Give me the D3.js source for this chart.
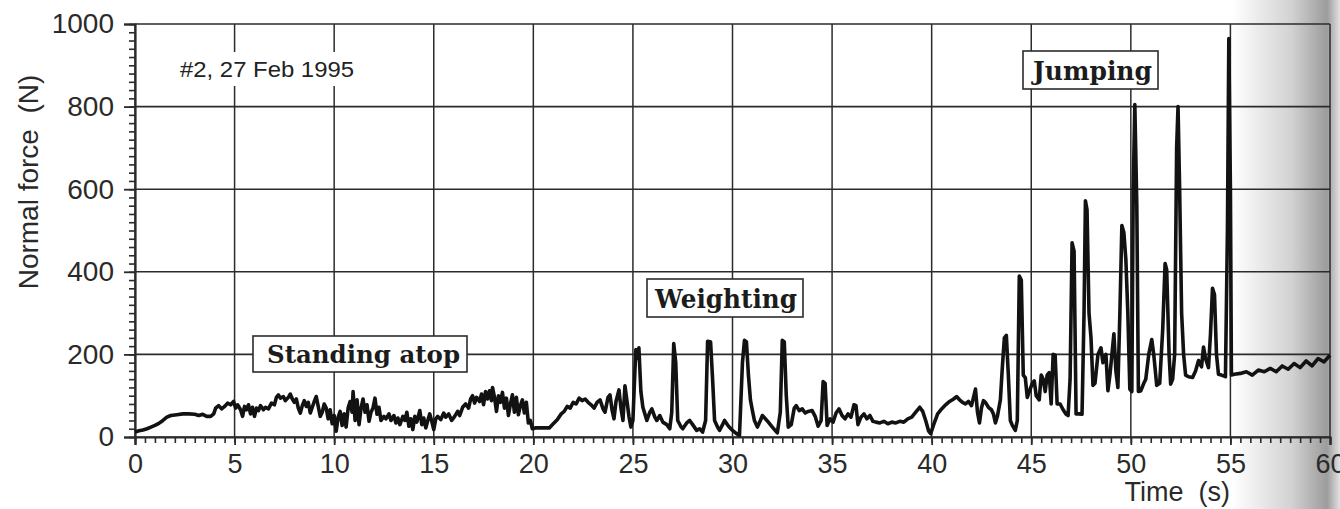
<!DOCTYPE html>
<html>
<head>
<meta charset="utf-8">
<script src="https://cdn.jsdelivr.net/npm/d3@7"></script>
<style>
  body { margin: 0; background: #fff; }
  svg { display: block; }
</style>
</head>
<body>
<div id="chart"></div>
<script>
// normal force (N) vs time (s), split by phase
const standingData = [
  [0, 12], [0.2, 15], [0.4, 17], [0.6, 20], [0.8, 24], [1.0, 28], [1.2, 33], [1.4, 40], [1.6, 48], [1.8, 52],
  [2.1, 54], [2.4, 56], [2.7, 56], [3.0, 55], [3.2, 52], [3.4, 55], [3.6, 50], [3.8, 50], [3.95, 56], [4.05, 70],
  [4.2, 76], [4.35, 68], [4.5, 74], [4.65, 82], [4.8, 78], [4.95, 86], [5.05, 70], [5.15, 78], [5.3, 66], [5.4, 50],
  [5.5, 74], [5.6, 66], [5.7, 78], [5.8, 56], [5.9, 72], [6.0, 50], [6.1, 70], [6.2, 64], [6.3, 76], [6.45, 66],
  [6.55, 72], [6.7, 68], [6.85, 82], [7.0, 78], [7.1, 96], [7.2, 102], [7.3, 94], [7.45, 98], [7.55, 88], [7.7, 96],
  [7.8, 104], [7.9, 92], [8.0, 84], [8.1, 92], [8.2, 70], [8.3, 58], [8.4, 76], [8.5, 88], [8.6, 74], [8.7, 84],
  [8.8, 58], [8.9, 72], [9.0, 86], [9.1, 98], [9.2, 74], [9.3, 50], [9.4, 60], [9.5, 80], [9.6, 70], [9.7, 44],
  [9.8, 66], [9.9, 32], [10.0, 52], [10.1, 14], [10.2, 48], [10.3, 62], [10.4, 28], [10.5, 56], [10.6, 24], [10.7, 70],
  [10.8, 86], [10.9, 60], [10.95, 110], [11.05, 40], [11.15, 90], [11.25, 30], [11.35, 70], [11.45, 92], [11.55, 60], [11.65, 78],
  [11.75, 38], [11.85, 60], [11.95, 70], [12.05, 94], [12.15, 55], [12.25, 72], [12.35, 40], [12.5, 50], [12.6, 44], [12.75, 56],
  [12.85, 40], [13.0, 52], [13.1, 34], [13.2, 46], [13.3, 30], [13.45, 50], [13.55, 40], [13.65, 60], [13.75, 26], [13.85, 44],
  [13.95, 18], [14.05, 50], [14.15, 36], [14.3, 64], [14.4, 30], [14.5, 46], [14.6, 22], [14.7, 40], [14.8, 56], [14.9, 38],
  [15.0, 18], [15.1, 44], [15.2, 50], [15.35, 42], [15.5, 58], [15.6, 48], [15.75, 56], [15.9, 40], [16.05, 50], [16.2, 62],
  [16.3, 52], [16.45, 72], [16.6, 80], [16.75, 70], [16.85, 92], [16.95, 100], [17.05, 82], [17.15, 96], [17.3, 86], [17.4, 104],
  [17.5, 78], [17.6, 110], [17.7, 92], [17.8, 112], [17.9, 88], [17.95, 120], [18.05, 96], [18.15, 62], [18.25, 100], [18.35, 84],
  [18.45, 108], [18.55, 70], [18.65, 94], [18.75, 52], [18.85, 80], [18.95, 102], [19.05, 60], [19.15, 96], [19.25, 54], [19.35, 76],
  [19.45, 90], [19.55, 58], [19.65, 84], [19.75, 34], [19.85, 40], [19.95, 20], [20.1, 22], [20.5, 22]
]

const weightingData = [
  [20.8, 22], [21.0, 32], [21.2, 42], [21.4, 56], [21.55, 62], [21.7, 74], [21.85, 70], [22.0, 84], [22.15, 80], [22.3, 94],
  [22.45, 88], [22.6, 92], [22.75, 84], [22.9, 78], [23.05, 70], [23.2, 84], [23.35, 90], [23.5, 68], [23.6, 60], [23.75, 96],
  [23.85, 102], [23.95, 66], [24.05, 44], [24.15, 86], [24.3, 114], [24.4, 70], [24.5, 40], [24.6, 124], [24.7, 88], [24.8, 50],
  [24.9, 24], [25.0, 40], [25.1, 160], [25.15, 212], [25.25, 190], [25.3, 216], [25.4, 110], [25.5, 72], [25.6, 56], [25.7, 40],
  [25.85, 60], [25.95, 68], [26.1, 48], [26.2, 40], [26.35, 52], [26.5, 36], [26.7, 30], [26.85, 20], [26.95, 60], [27.05, 226],
  [27.15, 180], [27.25, 40], [27.4, 26], [27.5, 20], [27.7, 34], [27.85, 40], [28.0, 30], [28.2, 16], [28.35, 20], [28.5, 12],
  [28.65, 40], [28.75, 232], [28.9, 230], [29.0, 140], [29.1, 40], [29.25, 24], [29.35, 16], [29.5, 30], [29.6, 40], [29.8, 26],
  [30.0, 16], [30.2, 8], [30.35, 4], [30.5, 180], [30.6, 234], [30.7, 230], [30.8, 150], [30.9, 90], [31.0, 64], [31.1, 40],
  [31.25, 24], [31.4, 40], [31.5, 52], [31.65, 44], [31.8, 36], [32.0, 24], [32.25, 10], [32.4, 60], [32.5, 234], [32.6, 230],
  [32.7, 100], [32.8, 24], [32.95, 30], [33.1, 70], [33.2, 76], [33.35, 64], [33.5, 68], [33.65, 58], [33.8, 62], [34.0, 64],
  [34.15, 50], [34.3, 26], [34.45, 40], [34.55, 134], [34.65, 130], [34.75, 28], [34.9, 44], [35.05, 36], [35.2, 58], [35.35, 68],
  [35.5, 52], [35.65, 44], [35.8, 56], [35.95, 48], [36.1, 78], [36.2, 76], [36.3, 30], [36.45, 48], [36.6, 56], [36.75, 44],
  [36.9, 52], [37.05, 38], [37.2, 36], [37.4, 34], [37.6, 38], [37.8, 32], [38.0, 36], [38.2, 34], [38.4, 38], [38.6, 36],
  [38.8, 44], [39.0, 48], [39.2, 60], [39.4, 72], [39.55, 62], [39.7, 40], [39.85, 14], [39.95, 8], [40.1, 30], [40.3, 56],
  [40.5, 68], [40.7, 78], [40.9, 86], [41.1, 92], [41.25, 98], [41.4, 90], [41.55, 84], [41.7, 80], [41.85, 86], [42.0, 76],
  [42.1, 96], [42.2, 116], [42.3, 60], [42.4, 34], [42.5, 70], [42.6, 88], [42.7, 84], [42.85, 72], [43.0, 66], [43.1, 56],
  [43.2, 34], [43.3, 50], [43.45, 90]
]

const jumpingData = [
  [43.55, 170], [43.65, 240], [43.75, 246], [43.85, 150], [43.95, 40], [44.05, 28], [44.2, 16], [44.3, 40], [44.4, 390], [44.5, 380],
  [44.6, 150], [44.7, 144], [44.8, 96], [44.9, 110], [45.05, 130], [45.15, 136], [45.25, 100], [45.4, 90], [45.5, 150], [45.6, 140],
  [45.7, 110], [45.8, 150], [45.9, 156], [46.0, 80], [46.1, 200], [46.2, 198], [46.3, 80], [46.45, 80], [46.6, 66], [46.75, 55],
  [46.85, 52], [46.95, 140], [47.05, 470], [47.15, 450], [47.25, 56], [47.4, 56], [47.55, 55], [47.65, 300], [47.72, 572], [47.8, 550],
  [47.9, 300], [48.0, 240], [48.1, 125], [48.2, 130], [48.35, 200], [48.5, 216], [48.6, 180], [48.75, 200], [48.85, 112], [48.95, 150],
  [49.05, 200], [49.15, 250], [49.25, 160], [49.35, 120], [49.45, 300], [49.55, 512], [49.65, 495], [49.75, 430], [49.85, 300], [49.95, 116],
  [50.05, 110], [50.12, 600], [50.2, 805], [50.3, 560], [50.38, 110], [50.5, 112], [50.65, 130], [50.75, 140], [50.9, 200], [51.05, 236],
  [51.15, 200], [51.3, 125], [51.45, 130], [51.6, 260], [51.72, 420], [51.8, 405], [51.92, 200], [52.0, 128], [52.1, 140], [52.2, 200],
  [52.3, 700], [52.37, 800], [52.45, 600], [52.55, 300], [52.65, 200], [52.75, 150], [52.9, 146], [53.1, 144], [53.25, 160], [53.4, 185],
  [53.55, 170], [53.65, 218], [53.75, 190], [53.9, 168], [54.0, 250], [54.1, 360], [54.2, 345], [54.3, 200], [54.4, 152], [54.55, 150],
  [54.75, 146], [54.85, 500], [54.92, 965], [55.0, 600], [55.05, 150]
]

const afterData = [
  [55.2, 152], [55.5, 154], [55.8, 158], [56.1, 150], [56.4, 162], [56.7, 158], [57.0, 166], [57.3, 158], [57.6, 172],
  [57.9, 164], [58.2, 178], [58.5, 168], [58.8, 184], [59.1, 172], [59.4, 190], [59.7, 182], [60.0, 198]
]

const xTickValues = [0, 5, 10, 15, 20, 25, 30, 35, 40, 45, 50, 55, 60]
const yTickValues = [0, 200, 400, 600, 800, 1000]
const phaseLabels = ['Standing atop', 'Weighting', 'Jumping']
const runLabel = '#2, 27 Feb 1995'
const xTitle = 'Time  (s)'
const yTitle = 'Normal force  (N)'

const opts = {
  width: 1340,
  height: 509,
  plot: { left: 135, right: 1330, top: 24, bottom: 437 }
}

const series = [...standingData, ...weightingData, ...jumpingData, ...afterData]
const pLeft = opts.plot.left
const pRight = opts.plot.right
const pTop = opts.plot.top
const pBottom = opts.plot.bottom

const x = d3.scaleLinear().domain([0, 60]).range([pLeft, pRight])
const y = d3.scaleLinear().domain([0, 1000]).range([pBottom, pTop])

const svg = d3.select('#chart').append('svg')
  .attr('width', opts.width)
  .attr('height', opts.height)

// page curl shading at the right edge of the scan
const defs = svg.append('defs')
const grad = defs.append('linearGradient').attr('id', 'curl')
grad.append('stop').attr('offset', '0%').attr('stop-color', '#fff')
grad.append('stop').attr('offset', '55%').attr('stop-color', '#d2d2d2')
grad.append('stop').attr('offset', '88%').attr('stop-color', '#9c9c9c')
grad.append('stop').attr('offset', '100%').attr('stop-color', '#e2e2e2')
svg.append('rect')
  .attr('x', 1232).attr('y', 0)
  .attr('width', opts.width - 1232).attr('height', opts.height)
  .attr('fill', 'url(#curl)')

const ink = '#2b2b2b'
const font = '"Liberation Sans", Arial, sans-serif'

// grid
const grid = svg.append('g')
grid.selectAll('line.v')
  .data(xTickValues)
  .enter()
  .append('line')
  .attr('x1', d => x(d)).attr('x2', d => x(d))
  .attr('y1', pTop).attr('y2', pBottom)
  .attr('stroke', ink).attr('stroke-width', 1.5)
grid.selectAll('line.h')
  .data(yTickValues)
  .enter()
  .append('line')
  .attr('x1', pLeft).attr('x2', pRight)
  .attr('y1', d => y(d)).attr('y2', d => y(d))
  .attr('stroke', ink).attr('stroke-width', 1.6)

// minor ticks
const yMinor = svg.append('g')
  .attr('transform', `translate(${pLeft},0)`)
  .call(d3.axisLeft(y).ticks(50).tickSize(6).tickFormat(''))
yMinor.select('.domain').remove()
yMinor.selectAll('line').attr('stroke', ink).attr('stroke-width', 1.6)

const xMinor = svg.append('g')
  .attr('transform', `translate(0,${pBottom})`)
  .call(d3.axisBottom(x).ticks(120).tickSize(6).tickFormat(''))
xMinor.select('.domain').remove()
xMinor.selectAll('line').attr('stroke', ink).attr('stroke-width', 1.6)

// major axes
const yAxis = svg.append('g')
  .attr('transform', `translate(${pLeft},0)`)
  .call(d3.axisLeft(y).tickValues(yTickValues).tickSize(11).tickPadding(10).tickFormat(d3.format('d')))
yAxis.select('.domain').attr('stroke', ink).attr('stroke-width', 2.2)
yAxis.selectAll('line').attr('stroke', ink).attr('stroke-width', 1.8)
yAxis.selectAll('text')
  .attr('font-family', font).attr('font-size', 28).attr('fill', '#2a2a2a')

const xAxis = svg.append('g')
  .attr('transform', `translate(0,${pBottom})`)
  .call(d3.axisBottom(x).tickValues(xTickValues).tickSize(8).tickPadding(9))
xAxis.select('.domain').attr('stroke', ink).attr('stroke-width', 2.2)
xAxis.selectAll('line').attr('stroke', ink).attr('stroke-width', 1.8)
xAxis.selectAll('text')
  .attr('font-family', font).attr('font-size', 27).attr('fill', '#2a2a2a')

// trace
const line = d3.line()
  .x(d => x(d[0]))
  .y(d => y(d[1]))

svg.append('path')
  .datum(series)
  .attr('d', line)
  .attr('fill', 'none')
  .attr('stroke', '#121212')
  .attr('stroke-width', 3.6)
  .attr('stroke-linejoin', 'round')

// axis titles
svg.append('text')
  .attr('transform', 'translate(38,182) rotate(-90)')
  .attr('text-anchor', 'middle')
  .attr('font-family', font).attr('font-size', 28).attr('fill', '#2a2a2a')
  .style('white-space', 'pre')
  .text(yTitle)

svg.append('text')
  .attr('x', 1230).attr('y', 501)
  .attr('text-anchor', 'end')
  .attr('font-family', font).attr('font-size', 27).attr('fill', '#2a2a2a')
  .style('white-space', 'pre')
  .text(xTitle)

// run label, on a white patch that breaks the grid
svg.append('rect')
  .attr('x', 174).attr('y', 52)
  .attr('width', 186).attr('height', 34)
  .attr('fill', '#fff')
svg.append('text')
  .attr('x', 180).attr('y', 77)
  .attr('font-family', font).attr('font-size', 22).attr('fill', '#222')
  .attr('textLength', 174)
  .attr('lengthAdjust', 'spacingAndGlyphs')
  .text(runLabel)

// phase boxes
const boxes = [
  { x: 253, y: 336, w: 214, h: 36, tx: 267, ty: 363, len: 193, size: 24 },
  { x: 647, y: 279, w: 156, h: 38, tx: 655, ty: 308, len: 142, size: 26 },
  { x: 1023, y: 51, w: 135, h: 38, tx: 1033, ty: 80, len: 119, size: 26 }
]
const boxG = svg.selectAll('g.phase')
  .data(phaseLabels)
  .enter()
  .append('g')
boxG.append('rect')
  .attr('x', (d, i) => boxes[i].x).attr('y', (d, i) => boxes[i].y)
  .attr('width', (d, i) => boxes[i].w).attr('height', (d, i) => boxes[i].h)
  .attr('fill', '#fff').attr('stroke', ink).attr('stroke-width', 1.6)
boxG.append('text')
  .attr('x', (d, i) => boxes[i].tx).attr('y', (d, i) => boxes[i].ty)
  .attr('font-family', '"DejaVu Serif", serif').attr('font-weight', 'bold')
  .attr('font-size', (d, i) => boxes[i].size).attr('fill', '#1c1c1c')
  .attr('textLength', (d, i) => boxes[i].len)
  .attr('lengthAdjust', 'spacingAndGlyphs')
  .text(d => d)
</script>
</body>
</html>
